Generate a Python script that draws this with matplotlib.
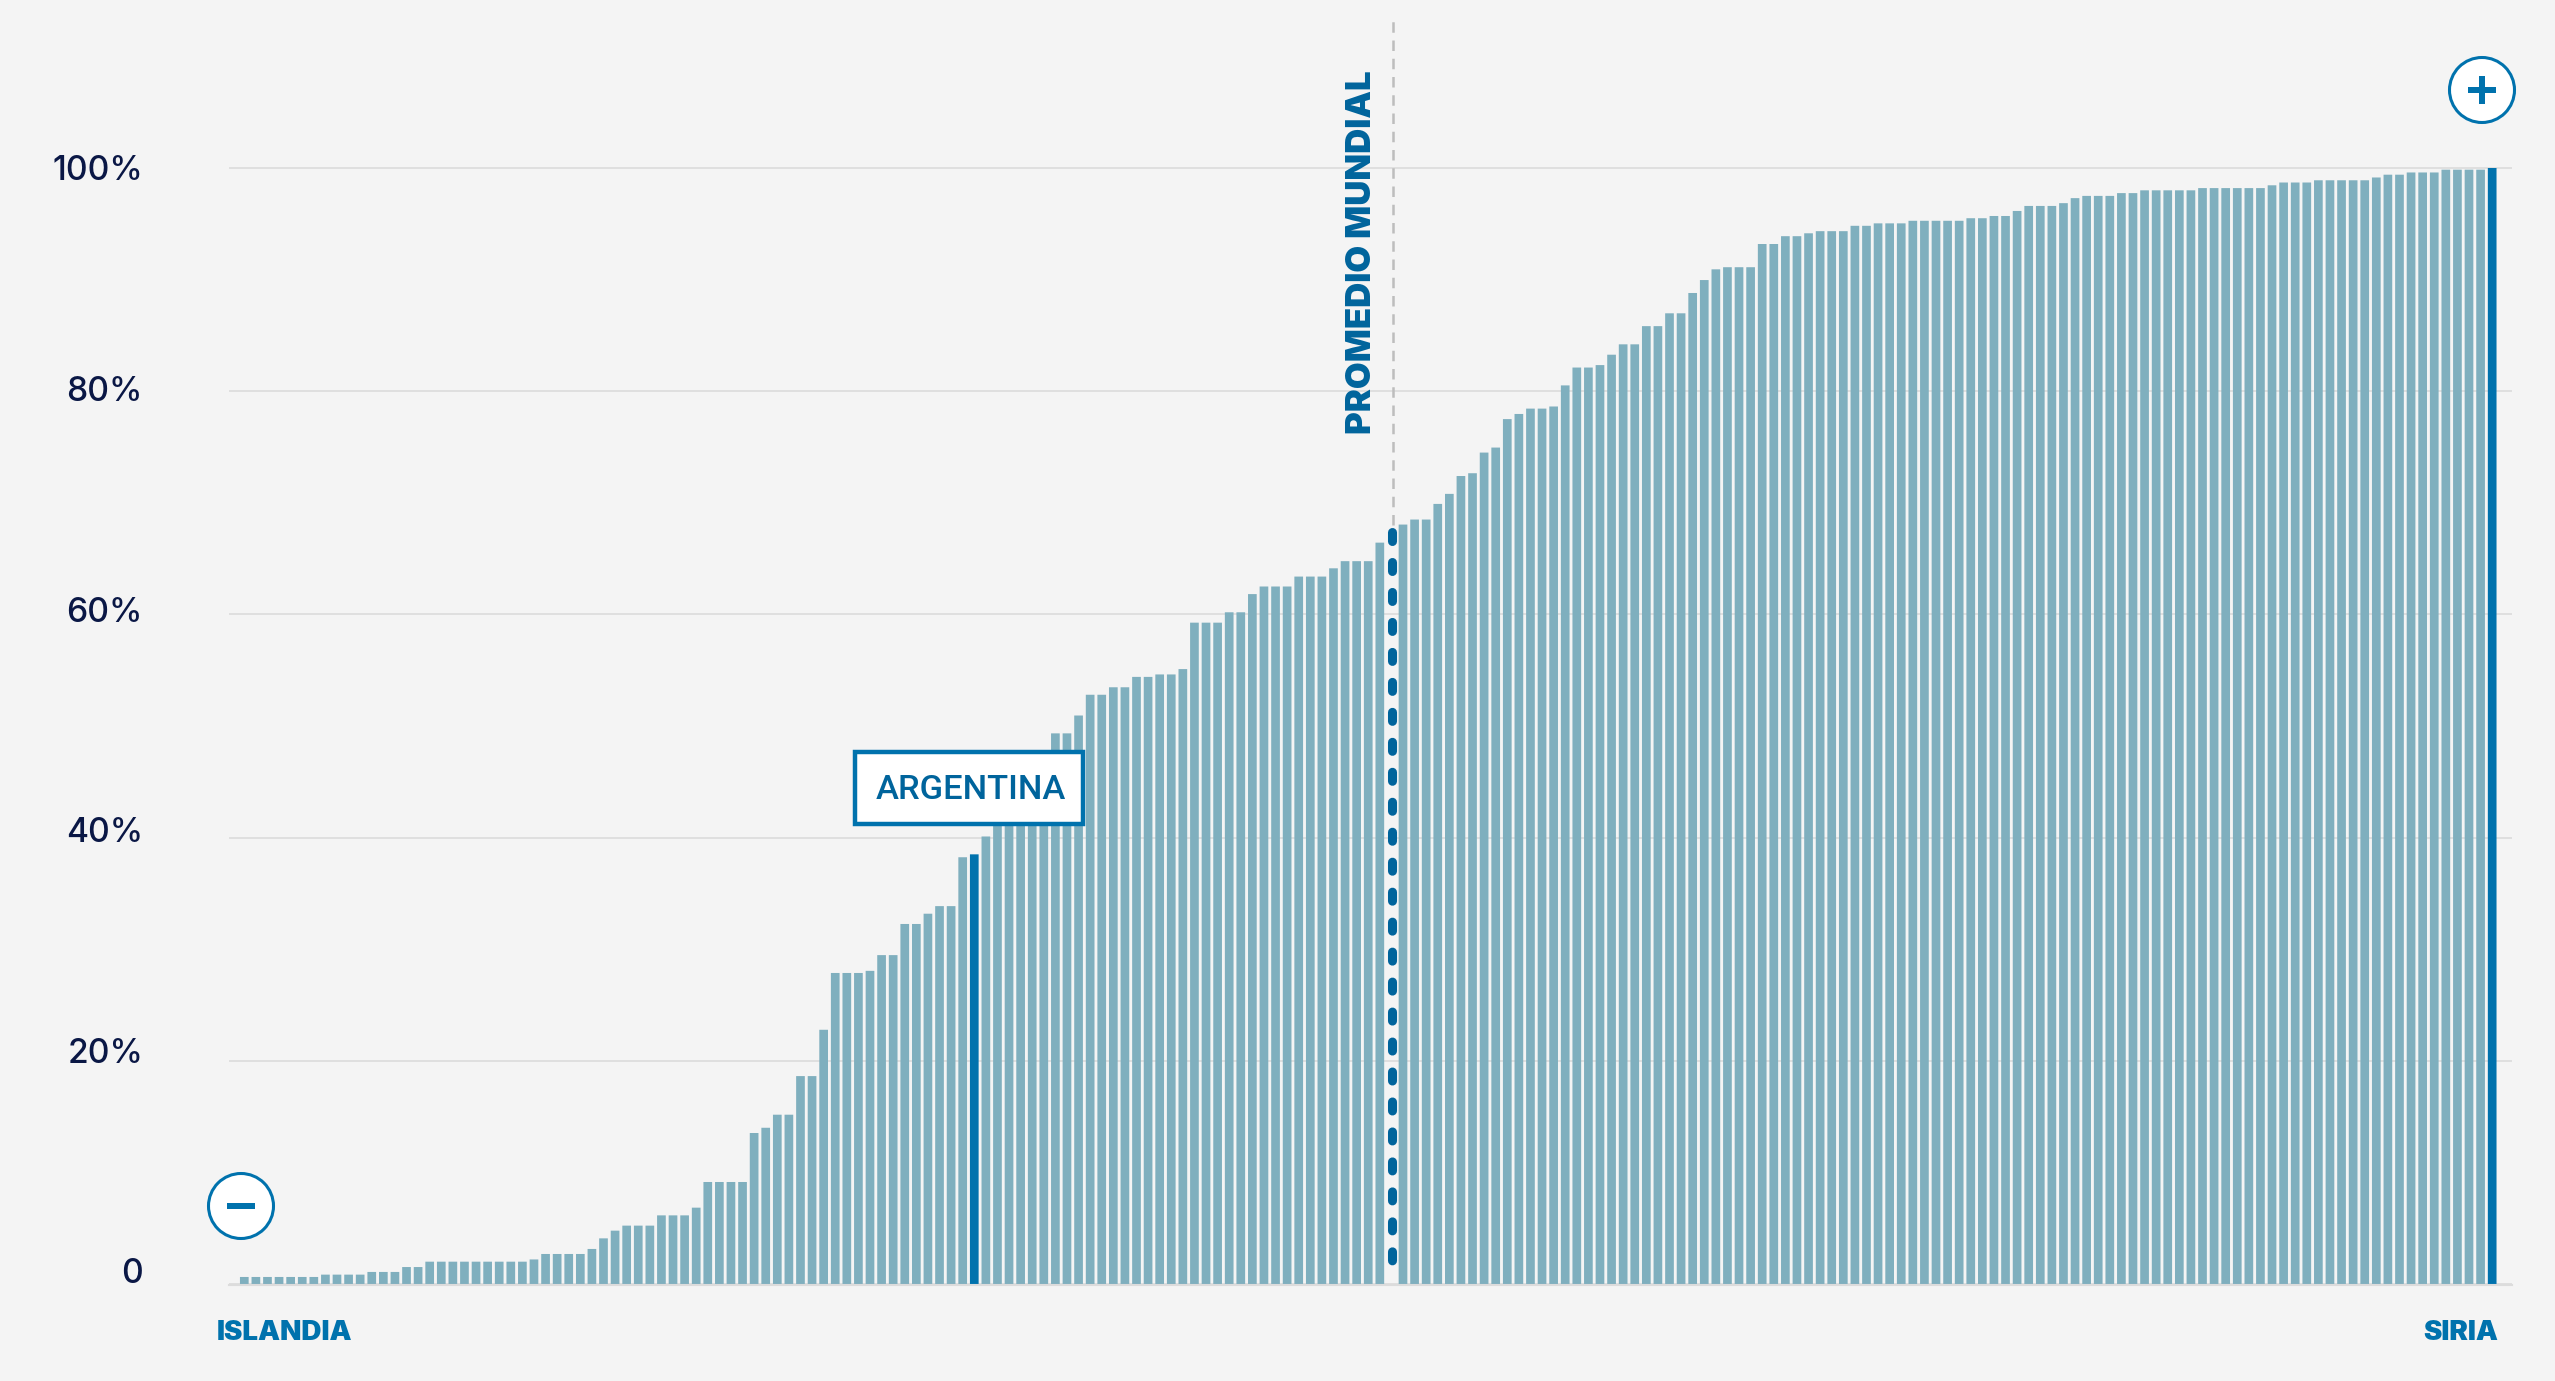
#!/usr/bin/env python3
"""Bar chart, countries sorted by share, Islandia to Siria."""
import matplotlib
matplotlib.use('Agg')
import matplotlib.pyplot as plt
import matplotlib.patches as mpatches
from matplotlib.transforms import Affine2D, ScaledTranslation

W, H = 2555, 1381
BG = '#f4f4f4'
BAR = '#7fafbe'
HILITE = '#0072ad'
DARK = '#00649c'
GRID = '#d9d9d9'
NAVY = '#0a1745'

values = [
    0.63, 0.63, 0.63, 0.63, 0.63, 0.63, 0.63, 0.84, 0.84, 0.84,
    0.84, 1.08, 1.08, 1.08, 1.52, 1.52, 2.0, 2.0, 2.0, 2.0,
    2.0, 2.0, 2.0, 2.0, 2.0, 2.2, 2.69, 2.69, 2.69, 2.69,
    3.14, 4.09, 4.78, 5.23, 5.23, 5.23, 6.15, 6.15, 6.15, 6.84,
    9.14, 9.14, 9.14, 9.14, 13.53, 14.0, 15.17, 15.17, 18.63, 18.63,
    22.78, 27.87, 27.87, 27.87, 28.06, 29.47, 29.47, 32.26, 32.26, 33.18,
    33.86, 33.86, 38.24, 38.5, 40.1, 41.5, 43.0, 44.5, 45.5, 47.0,
    49.34, 49.34, 50.94, 52.8, 52.8, 53.47, 53.47, 54.4, 54.4, 54.62,
    54.62, 55.1, 59.26, 59.26, 59.26, 60.19, 60.19, 61.82, 62.5, 62.5,
    62.5, 63.39, 63.39, 63.39, 64.13, 64.77, 64.77, 64.77, 66.43, 67.4,
    68.05, 68.5, 68.5, 69.9, 70.8, 72.4, 72.65, 74.5, 74.95, 77.5,
    77.96, 78.44, 78.44, 78.63, 80.52, 82.12, 82.12, 82.34, 83.27, 84.2,
    84.2, 85.83, 85.83, 86.98, 86.98, 88.8, 89.96, 90.92, 91.11, 91.11,
    91.11, 93.19, 93.19, 93.89, 93.89, 94.15, 94.34, 94.34, 94.34, 94.82,
    94.82, 95.04, 95.04, 95.04, 95.27, 95.27, 95.27, 95.27, 95.27, 95.5,
    95.5, 95.7, 95.7, 96.15, 96.6, 96.6, 96.6, 96.85, 97.3, 97.5,
    97.5, 97.5, 97.75, 97.75, 98.0, 98.0, 98.0, 98.0, 98.0, 98.2,
    98.2, 98.2, 98.2, 98.2, 98.2, 98.45, 98.7, 98.7, 98.7, 98.9,
    98.9, 98.9, 98.9, 98.9, 99.15, 99.4, 99.4, 99.6, 99.6, 99.6,
    99.85, 99.85, 99.85, 99.85, 100.0,
]
tick_values = [0, 20, 40, 60, 80, 100]
tick_labels = ['0', '20%', '40%', '60%', '80%', '100%']
ARGENTINA = 63
PROMEDIO = 99
SIRIA = len(values) - 1

# pixel geometry of the plot
X0, PITCH = 244.3, 11.587
Y0, UNIT = 1284, 11.16
LEFT, RIGHT = 229, 2512

fig = plt.figure(figsize=(W / 100, H / 100), dpi=100, facecolor=BG)
ax = fig.add_axes([LEFT / W, (H - Y0) / H, (RIGHT - LEFT) / W, Y0 / H], facecolor=BG)
ax.set_xlim((LEFT - X0) / PITCH, (RIGHT - X0) / PITCH)
ax.set_ylim(0, Y0 / UNIT)

colors = [BAR] * len(values)
colors[ARGENTINA] = HILITE
colors[SIRIA] = HILITE
heights = list(values)
heights[PROMEDIO] = 0
bars = ax.bar(range(len(values)), heights, width=0.75, color=colors, linewidth=0, zorder=2)
for b in bars:
    b.set_snap(False)

# promedio mundial: thick rounded dashes in place of the bar
ax.plot([PROMEDIO + 0.08] * 2, [values[PROMEDIO], 1.25], color=DARK, lw=6.5,
        linestyle=(0, (1.0, 2.32)), dash_capstyle='round', zorder=3)
ax.plot([PROMEDIO + 0.16] * 2, [values[PROMEDIO] + 0.6, Y0 / UNIT - 1.8], color='#bdbdbd',
        lw=1.8, linestyle=(0, (4.2, 3.1)), zorder=1)

ax.set_yticks(tick_values)
ax.set_yticklabels(tick_labels, fontfamily='Inter', fontweight='medium', fontsize=24.2, color=NAVY)
ax.set_xticks([])
ax.tick_params(axis='y', length=0, pad=(LEFT - 143) * 0.72)
ax.grid(axis='y', color=GRID, lw=1.1, zorder=0)
ax.set_axisbelow(True)
for name in ['top', 'left', 'right']:
    ax.spines[name].set_visible(False)
ax.spines['bottom'].set_color('#dcdcdc')
ax.spines['bottom'].set_linewidth(1.5)
ax.spines['bottom'].set_position(('outward', 1))

# the axis labels sit a bit above their gridlines towards the bottom
for lab, t in zip(ax.get_yticklabels(), tick_values):
    lab.set_transform(lab.get_transform() + ScaledTranslation(0, (100 - t) * 0.094 / 72, fig.dpi_scale_trans))

# everything below is placed in image pixels
px = Affine2D().scale(1, -1).translate(0, H)


def icon(x, y, plus=False):
    ax.add_patch(mpatches.Circle((x, y), 32.5, transform=px, fc='white', ec=HILITE,
                                 lw=2.2, clip_on=False, zorder=6))
    ax.add_patch(mpatches.Rectangle((x - 14, y - 3), 28, 6, transform=px, fc=HILITE,
                                    lw=0, clip_on=False, zorder=7))
    if plus:
        ax.add_patch(mpatches.Rectangle((x - 3, y - 14), 6, 28, transform=px, fc=HILITE,
                                        lw=0, clip_on=False, zorder=7))


icon(241, 1206)
icon(2482, 90, plus=True)

ax.add_patch(mpatches.Rectangle((855, 752), 228, 72, transform=px, fc='white', ec=HILITE,
                                lw=3.2, clip_on=False, zorder=6))
ax.text(970.5, 790, 'ARGENTINA', transform=px, ha='center', va='center', color=DARK,
        fontfamily='Roboto', fontweight='medium', fontsize=24.8, zorder=7)
ax.text(1362, 252, 'PROMEDIO MUNDIAL', transform=px, rotation=90, ha='center', va='center',
        color=DARK, fontfamily='Inter', fontweight=900, fontsize=25, zorder=5)
ax.text(217, 1333, 'ISLANDIA', transform=px, ha='left', va='center', color=HILITE,
        fontfamily='Inter', fontweight=900, fontsize=20, zorder=5)
ax.text(2498, 1333, 'SIRIA', transform=px, ha='right', va='center', color=HILITE,
        fontfamily='Inter', fontweight=900, fontsize=20, zorder=5)

fig.savefig('out.png', dpi=100, facecolor=BG)
print('wrote out.png')
